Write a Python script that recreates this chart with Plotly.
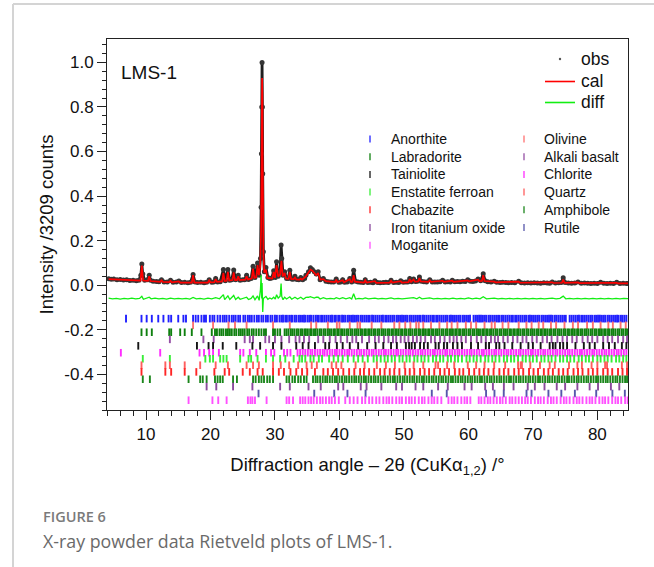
import plotly.graph_objects as go

# ------------------------------------------------------------------ data
# observed profile (2theta, intensity / 3209 counts)
obs_points = [
    (4.2, 0.029), (4.6, 0.027), (5.0, 0.028), (5.5, 0.025), (6.0, 0.026), (6.5, 0.023), (7.0, 0.024),
    (7.5, 0.021), (8.0, 0.022), (8.5, 0.020), (8.9, 0.022), (9.2, 0.045), (9.35, 0.095), (9.5, 0.050),
    (9.8, 0.022), (10.2, 0.024), (10.5, 0.045), (10.7, 0.022), (11.1, 0.018), (11.6, 0.017), (12.0, 0.016),
    (12.4, 0.025), (12.8, 0.015), (13.3, 0.014), (13.8, 0.022), (14.2, 0.013), (14.7, 0.014), (15.1, 0.019),
    (15.5, 0.012), (16.0, 0.013), (16.5, 0.011), (16.9, 0.013), (17.3, 0.048), (17.6, 0.014), (18.0, 0.012),
    (18.5, 0.013), (19.0, 0.011), (19.4, 0.013), (19.8, 0.025), (20.2, 0.013), (20.5, 0.015), (20.8, 0.030),
    (21.1, 0.015), (21.5, 0.016), (22.0, 0.070), (22.3, 0.020), (22.7, 0.070), (23.0, 0.022), (23.3, 0.025),
    (23.6, 0.068), (23.9, 0.024), (24.3, 0.045), (24.6, 0.022), (25.0, 0.024), (25.3, 0.025), (25.6, 0.045),
    (25.9, 0.026), (26.3, 0.030), (26.6, 0.085), (26.9, 0.035), (27.3, 0.100), (27.55, 0.045), (27.75, 0.120),
    (27.85, 0.350), (27.9, 0.590), (27.95, 0.800), (28.0, 1.000), (28.05, 0.800), (28.1, 0.500), (28.2, 0.150),
    (28.35, 0.060), (28.6, 0.080), (28.9, 0.035), (29.2, 0.030), (29.5, 0.032), (29.8, 0.065), (30.05, 0.035),
    (30.25, 0.105), (30.5, 0.040), (30.8, 0.060), (30.95, 0.180), (31.05, 0.120), (31.25, 0.045), (31.5, 0.060),
    (31.8, 0.030), (32.05, 0.030), (32.3, 0.067), (32.6, 0.028), (32.8, 0.027), (33.1, 0.040), (33.4, 0.026),
    (33.7, 0.025), (34.0, 0.035), (34.3, 0.025), (34.6, 0.030), (34.8, 0.045), (35.2, 0.060), (35.5, 0.078),
    (35.8, 0.070), (36.1, 0.060), (36.4, 0.050), (36.7, 0.060), (37.0, 0.025), (37.5, 0.030), (37.9, 0.018),
    (38.3, 0.016), (38.7, 0.015), (39.1, 0.014), (39.5, 0.028), (39.9, 0.013), (40.2, 0.014), (40.5, 0.025),
    (40.8, 0.013), (41.2, 0.014), (41.6, 0.030), (41.9, 0.015), (42.2, 0.067), (42.5, 0.018), (42.9, 0.014),
    (43.3, 0.013), (43.7, 0.012), (44.0, 0.025), (44.4, 0.012), (44.8, 0.013), (45.2, 0.011), (45.5, 0.020),
    (45.9, 0.012), (46.3, 0.011), (46.8, 0.012), (47.2, 0.013), (47.6, 0.012), (48.0, 0.022), (48.4, 0.012),
    (48.8, 0.013), (49.2, 0.012), (49.5, 0.020), (49.9, 0.013), (50.3, 0.014), (50.6, 0.015), (50.9, 0.030),
    (51.2, 0.016), (51.5, 0.028), (51.8, 0.017), (52.1, 0.018), (52.4, 0.037), (52.7, 0.018), (53.1, 0.016),
    (53.5, 0.015), (54.0, 0.025), (54.4, 0.015), (54.8, 0.014), (55.2, 0.015), (55.6, 0.016), (56.0, 0.022),
    (56.4, 0.015), (56.8, 0.016), (57.2, 0.015), (57.5, 0.022), (57.9, 0.016), (58.3, 0.017), (58.7, 0.016),
    (59.1, 0.018), (59.5, 0.017), (59.9, 0.025), (60.3, 0.018), (60.7, 0.017), (61.1, 0.019), (61.5, 0.028),
    (61.9, 0.020), (62.3, 0.052), (62.6, 0.020), (63.0, 0.016), (63.5, 0.015), (64.0, 0.018), (64.4, 0.013),
    (64.9, 0.012), (65.3, 0.013), (65.8, 0.012), (66.2, 0.011), (66.7, 0.012), (67.2, 0.011), (67.8, 0.018),
    (68.2, 0.011), (68.7, 0.010), (69.2, 0.011), (69.7, 0.010), (70.2, 0.011), (70.7, 0.010), (71.2, 0.009),
    (71.7, 0.011), (72.2, 0.010), (72.6, 0.009), (73.0, 0.015), (73.5, 0.010), (74.0, 0.011), (74.4, 0.012),
    (74.7, 0.033), (75.0, 0.012), (75.5, 0.010), (76.0, 0.009), (76.5, 0.010), (77.0, 0.015), (77.5, 0.009),
    (78.0, 0.010), (78.5, 0.009), (79.0, 0.008), (79.5, 0.009), (80.0, 0.008), (80.5, 0.013), (81.0, 0.009),
    (81.5, 0.008), (82.0, 0.009), (82.5, 0.008), (83.0, 0.013), (83.5, 0.008), (84.0, 0.009), (84.5, 0.008),
    (84.75, 0.008),
]

# calculated profile
calc_points = [
    (4.2, 0.027), (5.5, 0.025), (7.0, 0.022), (8.5, 0.020), (9.15, 0.021), (9.35, 0.088), (9.55, 0.021),
    (10.3, 0.020), (10.5, 0.040), (10.7, 0.019), (12.2, 0.015), (12.4, 0.022), (12.6, 0.015), (13.6, 0.014),
    (13.8, 0.020), (14.0, 0.013), (15.1, 0.017), (15.3, 0.012), (17.1, 0.012), (17.3, 0.045), (17.5, 0.012),
    (19.6, 0.012), (19.8, 0.022), (20.0, 0.013), (20.6, 0.014), (20.8, 0.028), (21.0, 0.015), (21.8, 0.017),
    (22.0, 0.055), (22.2, 0.019), (22.5, 0.020), (22.7, 0.060), (22.9, 0.021), (23.4, 0.023), (23.6, 0.058),
    (23.8, 0.023), (24.1, 0.023), (24.3, 0.040), (24.5, 0.023), (25.4, 0.025), (25.6, 0.040), (25.8, 0.026),
    (26.4, 0.030), (26.6, 0.075), (26.8, 0.033), (27.1, 0.035), (27.3, 0.090), (27.5, 0.045), (27.7, 0.080),
    (27.85, 0.245), (27.9, 0.550), (27.95, 0.800), (28.0, 0.930), (28.05, 0.850), (28.1, 0.560), (28.2, 0.150),
    (28.35, 0.055), (28.6, 0.070), (28.8, 0.033), (29.6, 0.030), (29.8, 0.060), (30.0, 0.033), (30.25, 0.090),
    (30.5, 0.038), (30.8, 0.050), (31.0, 0.110), (31.2, 0.040), (31.5, 0.055), (31.7, 0.030), (32.1, 0.029),
    (32.3, 0.060), (32.5, 0.028), (32.9, 0.027), (33.1, 0.035), (33.3, 0.026), (33.8, 0.025), (34.0, 0.030),
    (34.2, 0.025), (34.8, 0.040), (35.2, 0.055), (35.5, 0.070), (35.8, 0.065), (36.1, 0.055), (36.4, 0.045),
    (36.7, 0.055), (37.0, 0.025), (37.5, 0.027), (37.9, 0.018), (39.3, 0.014), (39.5, 0.025), (39.7, 0.014),
    (40.5, 0.022), (40.7, 0.013), (41.6, 0.027), (41.8, 0.014), (42.0, 0.015), (42.2, 0.045), (42.4, 0.016),
    (43.8, 0.012), (44.0, 0.022), (44.2, 0.012), (45.5, 0.018), (45.7, 0.011), (47.8, 0.012), (48.0, 0.020),
    (48.2, 0.012), (49.5, 0.018), (49.7, 0.012), (50.7, 0.014), (50.9, 0.027), (51.1, 0.015), (51.5, 0.025),
    (51.7, 0.016), (52.2, 0.017), (52.4, 0.032), (52.6, 0.017), (53.8, 0.015), (54.0, 0.022), (54.2, 0.015),
    (56.0, 0.020), (56.2, 0.015), (57.5, 0.020), (57.7, 0.015), (59.9, 0.022), (60.1, 0.017), (61.5, 0.025),
    (61.7, 0.018), (62.1, 0.019), (62.3, 0.045), (62.5, 0.019), (64.0, 0.016), (64.2, 0.013), (67.8, 0.016),
    (68.0, 0.011), (73.0, 0.013), (73.2, 0.010), (74.5, 0.011), (74.7, 0.025), (74.9, 0.011), (77.0, 0.013),
    (77.2, 0.009), (80.5, 0.011), (80.7, 0.009), (83.0, 0.011), (83.2, 0.008), (84.75, 0.008),
]

# difference curve (obs - cal, plotted with its offset)
diff_points = [
    (4.2, -0.058), (4.8, -0.061), (5.4, -0.059), (6.0, -0.062), (6.6, -0.059), (7.2, -0.061), (7.8, -0.058),
    (8.4, -0.061), (9.0, -0.059), (9.35, -0.050), (9.6, -0.063), (10.2, -0.059), (10.5, -0.054), (10.8, -0.061),
    (11.4, -0.058), (12.0, -0.061), (12.6, -0.059), (13.2, -0.062), (13.8, -0.058), (14.4, -0.061), (15.0, -0.059),
    (15.6, -0.061), (16.2, -0.059), (16.8, -0.062), (17.3, -0.055), (17.8, -0.061), (18.4, -0.059), (19.0, -0.062),
    (19.6, -0.058), (20.2, -0.061), (20.8, -0.056), (21.4, -0.061), (22.0, -0.042), (22.2, -0.065), (22.7, -0.048),
    (23.0, -0.064), (23.6, -0.046), (23.9, -0.064), (24.3, -0.054), (24.6, -0.063), (25.0, -0.058), (25.6, -0.054),
    (25.9, -0.064), (26.3, -0.059), (26.6, -0.048), (26.9, -0.065), (27.3, -0.048), (27.55, -0.068), (27.75, -0.020),
    (27.85, 0.045), (27.9, -0.020), (27.95, -0.060), (28.0, 0.010), (28.05, -0.110), (28.1, -0.120), (28.2, -0.060),
    (28.35, -0.055), (28.6, -0.050), (28.9, -0.063), (29.2, -0.057), (29.5, -0.062), (29.8, -0.054), (30.05, -0.062),
    (30.25, -0.043), (30.5, -0.058), (30.8, -0.049), (30.95, 0.008), (31.05, -0.050), (31.25, -0.065), (31.5, -0.054),
    (31.8, -0.062), (32.3, -0.052), (32.6, -0.063), (33.1, -0.054), (33.5, -0.062), (34.0, -0.054), (34.4, -0.063),
    (34.8, -0.055), (35.2, -0.054), (35.5, -0.051), (35.8, -0.055), (36.1, -0.058), (36.4, -0.054), (36.7, -0.054),
    (37.0, -0.062), (37.5, -0.056), (38.0, -0.061), (38.6, -0.059), (39.2, -0.061), (39.5, -0.056), (40.0, -0.061),
    (40.5, -0.056), (41.0, -0.061), (41.6, -0.056), (41.9, -0.062), (42.2, -0.038), (42.5, -0.062), (43.0, -0.059),
    (43.6, -0.061), (44.0, -0.057), (44.5, -0.061), (45.1, -0.059), (45.5, -0.058), (46.0, -0.061), (46.6, -0.059),
    (47.2, -0.061), (47.8, -0.059), (48.0, -0.057), (48.5, -0.061), (49.1, -0.059), (49.7, -0.061), (50.3, -0.059),
    (50.9, -0.056), (51.5, -0.056), (52.0, -0.061), (52.4, -0.054), (52.8, -0.061), (53.4, -0.059), (54.0, -0.057),
    (54.6, -0.061), (55.2, -0.059), (55.8, -0.061), (56.4, -0.059), (57.0, -0.061), (57.6, -0.058), (58.2, -0.061),
    (58.8, -0.059), (59.4, -0.061), (60.0, -0.057), (60.6, -0.061), (61.2, -0.058), (61.8, -0.061), (62.3, -0.052),
    (62.8, -0.061), (63.4, -0.059), (64.0, -0.058), (64.6, -0.061), (65.2, -0.059), (65.8, -0.061), (66.4, -0.059),
    (67.0, -0.061), (67.6, -0.059), (68.2, -0.061), (68.8, -0.059), (69.4, -0.061), (70.0, -0.059), (70.6, -0.061),
    (71.2, -0.059), (71.8, -0.061), (72.4, -0.059), (73.0, -0.058), (73.6, -0.061), (74.2, -0.059), (74.7, -0.049),
    (75.1, -0.061), (75.7, -0.059), (76.3, -0.061), (76.9, -0.059), (77.5, -0.061), (78.1, -0.059), (78.7, -0.061),
    (79.3, -0.059), (79.9, -0.061), (80.5, -0.059), (81.1, -0.061), (81.7, -0.059), (82.3, -0.061), (82.9, -0.059),
    (83.5, -0.061), (84.1, -0.059), (84.75, -0.060),
]

# reflection positions (2theta) of each refined phase
anorthite = [6.9, 9.3, 10.1, 10.9, 11.9, 12.7, 13.5, 13.9, 15.0, 15.8, 16.2, 17.3, 17.7, 18.1, 18.6, 19.0, 19.3,
             19.9, 20.3, 20.6, 21.1, 21.5, 21.9, 22.2, 22.5, 22.9, 23.3, 23.6, 23.9, 24.3, 24.6, 25.1, 25.4, 25.8,
             26.1, 26.4, 26.8, 27.2, 27.5, 27.9, 28.2, 28.6, 28.9, 29.3, 29.6, 30.0, 30.3, 30.7, 31.0, 31.25, 31.6,
             31.85, 32.2, 32.5, 32.7, 33.05, 33.3, 33.65, 33.9, 34.2, 34.5, 34.75, 35.1, 35.4, 35.6, 35.95, 36.3,
             36.55, 36.8, 37.15, 37.4, 37.7, 38.0, 38.3, 38.6, 38.85, 39.2, 39.45, 39.8, 40.05, 40.4, 40.65, 40.9,
             41.25, 41.5, 41.8, 42.1, 42.4, 42.7, 42.95, 43.3, 43.55, 43.85, 44.15, 44.45, 44.7, 45.05, 45.3, 45.6,
             45.9, 46.2, 46.5, 46.75, 47.1, 47.35, 47.65, 47.95, 48.25, 48.5, 48.85, 49.1, 49.4, 49.7, 50.0, 50.3,
             50.55, 50.9, 51.15, 51.45, 51.75, 52.05, 52.35, 52.6, 52.95, 53.2, 53.5, 53.8, 54.1, 54.4, 54.65, 55.0,
             55.25, 55.55, 55.85, 56.15, 56.45, 56.7, 57.05, 57.3, 57.6, 57.9, 58.2, 58.5, 58.75, 59.1, 59.35, 59.65,
             59.95, 60.25, 60.8, 61.1, 61.35, 61.65, 61.95, 62.25, 62.55, 62.8, 63.15, 63.4, 63.7, 64.0, 64.3, 64.6,
             64.85, 65.2, 65.45, 65.75, 66.05, 66.35, 66.65, 66.9, 67.25, 67.5, 67.8, 68.1, 68.4, 68.7, 68.95, 69.3,
             69.55, 69.85, 70.15, 70.45, 70.75, 71.0, 71.35, 71.6, 71.9, 72.2, 72.5, 72.8, 73.05, 73.4, 73.65, 73.95,
             74.25, 74.55, 74.85, 75.1, 75.7, 76.0, 76.3, 76.6, 76.9, 77.15, 77.5, 77.75, 78.05, 78.35, 78.65, 78.95,
             79.2, 79.55, 79.8, 80.1, 80.4, 80.7, 81.0, 81.25, 81.6, 81.85, 82.15, 82.45, 82.75, 83.05, 83.3, 83.65,
             83.9, 84.2, 84.5]
olivine = [17.3, 20.4, 22.8, 23.8, 25.6, 29.7, 32.3, 35.6, 36.4, 38.2, 39.6, 40.0, 41.6, 42.8, 43.2, 45.0, 46.5,
           48.5, 49.3, 50.2, 51.0, 51.9, 52.3, 53.0, 54.2, 55.5, 56.7, 57.4, 58.3, 59.6, 60.4, 61.2, 62.5, 63.6,
           64.1, 65.3, 66.2, 67.8, 69.0, 69.8, 70.9, 71.6, 72.8, 73.6, 74.9, 76.2, 77.0, 78.4, 79.3, 80.5, 81.7,
           82.4, 83.6, 84.4]
labradorite = [9.3, 10.1, 10.9, 13.6, 13.9, 15.3, 16.0, 17.1, 18.6, 20.2, 20.7, 21.0, 21.4, 21.7, 22.0, 22.4, 22.7,
               23.0, 23.3, 23.7, 24.0, 24.4, 24.7, 25.0, 25.3, 25.7, 26.0, 26.4, 26.7, 27.1, 27.5, 27.9, 28.3, 28.6,
               29.7, 30.0, 30.4, 30.8, 31.5, 31.8, 32.1, 32.45, 32.7, 33.0, 33.35, 33.6, 33.95, 34.2, 34.55, 34.8,
               35.1, 35.45, 35.7, 36.05, 36.3, 36.6, 36.95, 37.2, 37.55, 37.8, 38.15, 38.4, 38.7, 39.05, 39.3, 39.65,
               39.9, 40.25, 40.5, 40.8, 41.15, 41.4, 41.75, 42.0, 42.35, 42.6, 42.9, 43.25, 43.5, 43.85, 44.1, 44.45,
               44.7, 45.0, 45.35, 45.6, 45.95, 46.2, 46.55, 46.8, 47.1, 47.45, 47.7, 48.05, 48.3, 48.65, 48.9, 49.2,
               49.55, 49.8, 50.15, 50.4, 50.75, 51.0, 51.3, 51.65, 51.9, 52.25, 52.5, 52.85, 53.1, 53.4, 53.75, 54.0,
               54.35, 54.6, 54.95, 55.2, 55.5, 55.85, 56.1, 56.45, 56.7, 57.05, 57.3, 57.6, 57.95, 58.2, 58.55, 58.8,
               59.15, 59.4, 59.7, 60.05, 60.3, 60.65, 60.9, 61.25, 61.5, 61.8, 62.15, 62.4, 62.75, 63.0, 63.35, 63.6,
               63.9, 64.25, 64.5, 64.85, 65.1, 65.45, 65.7, 66.0, 66.35, 66.6, 66.95, 67.2, 67.55, 67.8, 68.1, 68.45,
               68.7, 69.05, 69.3, 69.65, 69.9, 70.2, 70.55, 70.8, 71.15, 71.4, 71.75, 72.0, 72.3, 72.65, 72.9, 73.25,
               73.5, 73.85, 74.1, 74.4, 74.75, 75.0, 75.35, 75.6, 75.95, 76.2, 76.5, 76.85, 77.1, 77.45, 77.7, 78.05,
               78.3, 78.6, 78.95, 79.2, 79.55, 79.8, 80.15, 80.4, 80.7, 81.05, 81.3, 81.65, 81.9, 82.25, 82.5, 82.8,
               83.15, 83.4, 83.75, 84.0, 84.35, 84.6]
alkali_basalt = [13.7, 18.9, 20.5, 25.3, 26.1, 26.6, 28.5, 29.1, 30.0, 31.0, 32.2, 33.2, 33.8, 34.5, 35.3, 36.7, 37.5,
                 38.5, 39.4, 40.2, 41.2, 42.0, 42.6, 43.5, 44.6, 45.5, 46.1, 46.9, 47.6, 48.3, 48.8, 49.5, 50.1, 50.7,
                 51.4, 52.0, 52.6, 53.3, 54.2, 54.8, 55.6, 56.3, 57.1, 57.7, 58.2, 58.9, 59.6, 60.4, 61.3, 62.0, 62.7,
                 63.5, 64.1, 64.6, 65.4, 66.1, 66.9, 67.6, 68.4, 69.0, 69.9, 70.6, 71.5, 72.2, 72.9, 73.8, 74.6, 75.3,
                 76.1, 76.8, 77.7, 78.5, 79.2, 80.0, 80.9, 81.6, 82.3, 83.2, 84.0, 84.6]
tainiolite = [8.8, 17.9, 19.7, 20.4, 21.9, 24.0, 26.5, 27.7, 29.7, 31.0, 33.3, 34.3, 35.2, 36.2, 37.8, 38.4, 39.6, 40.5,
              41.6, 42.9, 44.3, 45.6, 46.8, 48.0, 48.9, 50.3, 50.8, 51.2, 51.7, 52.5, 53.1, 53.7, 54.9, 55.4, 56.2,
              56.7, 57.6, 58.3, 59.0, 60.4, 61.5, 62.7, 63.2, 64.3, 64.8, 65.6, 66.8, 68.1, 69.3, 70.0, 71.2, 72.6,
              73.1, 73.5, 74.2, 74.7, 75.3, 76.6, 77.9, 78.8, 79.6, 80.9, 81.8, 82.7, 83.8, 84.5]
chlorite = [6.1, 12.2, 18.3, 19.0, 19.8, 20.4, 21.3, 24.6, 25.1, 26.1, 27.1, 28.6, 29.4, 29.9, 31.4, 31.9, 32.4, 33.5,
            33.9, 34.3, 34.7, 35.1, 35.5, 35.8, 36.2, 36.6, 37.0, 37.4, 37.7, 38.1, 38.5, 38.9, 39.3, 39.6, 40.0, 40.4,
            40.8, 41.2, 41.5, 41.9, 42.3, 42.7, 43.1, 43.4, 43.8, 44.2, 44.6, 45.0, 45.3, 45.7, 46.1, 46.5, 46.9, 47.2,
            47.6, 48.0, 48.4, 48.8, 49.1, 49.5, 49.9, 50.3, 50.7, 51.0, 51.4, 51.8, 52.2, 52.6, 52.9, 53.3, 53.7, 54.1,
            54.5, 54.8, 55.2, 55.6, 56.0, 56.4, 56.7, 57.1, 57.5, 57.9, 58.3, 58.6, 59.0, 59.4, 59.8, 60.2, 60.5, 60.9,
            61.3, 61.7, 62.1, 62.4, 62.8, 63.2, 63.6, 64.0, 64.3, 64.7, 65.1, 65.5, 65.9, 66.2, 66.6, 67.0, 67.4, 67.8,
            68.1, 68.5, 68.9, 69.3, 69.7, 70.0, 70.4, 70.8, 71.2, 71.6, 71.9, 72.3, 72.7, 73.1, 73.5, 73.8, 74.2, 74.6,
            75.0, 75.4, 75.7, 76.1, 76.5, 76.9, 77.3, 77.6, 78.0, 78.4, 78.8, 79.2, 79.5, 79.9, 80.3, 80.7, 81.1, 81.4,
            81.8, 82.2, 82.6, 83.0, 83.3, 83.7, 84.1, 84.5]
enstatite_ferroan = [9.5, 13.7, 19.2, 19.9, 20.4, 21.5, 22.0, 22.5, 24.6, 25.9, 26.3, 27.3, 28.6, 29.7, 30.8, 31.6,
                     32.9, 33.8, 34.2, 34.7, 35.5, 36.0, 36.8, 37.3, 38.4, 39.1, 39.8, 40.5, 41.3, 42.2, 42.9, 43.6,
                     44.4, 45.3, 45.8, 46.4, 47.0, 47.5, 48.1, 48.6, 49.3, 49.8, 50.4, 50.9, 51.6, 52.1, 52.7, 53.2,
                     53.8, 54.5, 55.0, 55.6, 56.1, 56.8, 57.3, 57.9, 58.4, 59.0, 59.7, 60.2, 60.8, 61.3, 61.9, 62.6,
                     63.1, 63.7, 64.2, 64.8, 65.5, 66.0, 66.6, 67.1, 67.7, 68.4, 68.9, 69.5, 70.0, 70.6, 71.3, 71.8,
                     72.4, 72.9, 73.5, 74.2, 74.7, 75.3, 75.8, 76.4, 77.1, 77.6, 78.2, 78.7, 79.3, 80.0, 80.5, 81.1,
                     81.6, 82.2, 82.9, 83.4, 84.0, 84.5]
quartz = [9.3, 13.0, 13.7, 16.0, 18.4, 20.8, 22.7, 25.6, 26.6, 27.5, 29.7, 30.9, 32.2, 33.6, 34.9, 35.7, 36.5, 38.8,
          39.5, 40.3, 42.5, 43.9, 45.8, 47.2, 48.6, 50.1, 51.5, 53.0, 54.9, 55.3, 56.7, 57.8, 59.9, 61.2, 62.5, 64.0,
          65.7, 67.7, 68.1, 68.3, 69.6, 71.1, 72.6, 73.4, 75.6, 76.9, 77.6, 79.1, 80.0, 81.2, 81.5, 83.8, 84.6]
chabazite = [9.3, 13.0, 13.9, 16.0, 17.8, 20.6, 22.2, 22.9, 25.0, 26.1, 27.3, 28.1, 29.7, 30.6, 31.4, 32.4, 33.3,
             34.2, 35.0, 36.2, 37.5, 38.2, 39.0, 39.8, 40.6, 41.5, 42.3, 43.2, 43.8, 44.6, 45.4, 46.3, 47.0, 47.8,
             48.5, 49.3, 50.2, 50.9, 51.6, 52.5, 53.2, 53.9, 54.7, 55.6, 56.3, 57.0, 57.9, 58.6, 59.2, 60.1, 60.9,
             61.7, 62.4, 63.1, 63.9, 64.8, 65.5, 66.2, 67.1, 67.8, 68.5, 69.4, 70.1, 70.8, 71.7, 72.4, 73.1, 74.0,
             74.7, 75.4, 76.3, 77.0, 77.7, 78.6, 79.3, 80.0, 80.9, 81.6, 82.3, 83.2, 83.9, 84.6]
amphibole = [9.5, 10.6, 16.6, 18.4, 18.8, 19.4, 20.7, 21.1, 21.5, 21.9, 23.5, 24.1, 26.6, 27.0, 27.5, 27.9, 28.3,
             28.8, 29.2, 29.7, 31.8, 32.2, 32.7, 33.1, 33.6, 34.0, 34.5, 34.9, 35.9, 36.3, 36.6, 37.0, 37.4, 37.8,
             38.1, 38.5, 38.9, 39.3, 39.6, 40.0, 40.4, 40.8, 41.1, 41.5, 41.9, 42.3, 42.6, 43.0, 43.4, 43.8, 44.1,
             44.5, 44.9, 45.3, 45.6, 46.0, 46.4, 46.8, 47.1, 47.5, 47.9, 48.3, 48.6, 49.0, 49.4, 49.8, 50.1, 50.5,
             50.9, 51.3, 51.6, 52.0, 52.4, 52.8, 53.1, 53.5, 53.9, 54.3, 54.6, 55.0, 55.4, 55.8, 56.1, 56.5, 56.9,
             57.3, 57.6, 58.0, 58.4, 58.8, 59.1, 59.5, 59.9, 60.3, 60.6, 61.0, 61.4, 61.8, 62.1, 62.5, 62.9, 63.3,
             63.6, 64.0, 64.4, 64.8, 65.1, 65.5, 65.9, 66.3, 66.6, 67.0, 67.4, 67.8, 68.1, 68.5, 68.9, 69.3, 69.6,
             70.0, 70.4, 70.8, 71.1, 71.5, 71.9, 72.3, 72.6, 73.0, 73.4, 73.8, 74.1, 74.5, 74.9, 75.3, 75.6, 76.0,
             76.4, 76.8, 77.1, 77.5, 77.9, 78.3, 78.6, 79.0, 79.4, 79.8, 80.1, 80.5, 80.9, 81.3, 81.6, 82.0, 82.4,
             82.8, 83.1, 83.5, 83.9, 84.3, 84.6]
iron_titanium_oxide = [19.4, 20.9, 23.5, 26.5, 30.8, 32.3, 35.2, 37.1, 39.8, 40.6, 43.3, 44.2, 46.5, 48.8, 49.7, 51.8,
                       53.0, 55.3, 56.8, 59.4, 60.5, 62.6, 63.8, 65.5, 67.0, 69.2, 70.3, 71.8, 73.7, 75.0, 76.9, 78.8,
                       80.1, 82.1, 83.4]
rutile = [27.45, 36.09, 39.19, 41.24, 44.05, 54.32, 56.64, 62.74, 64.04, 65.48, 69.01, 69.79, 72.41, 74.41, 76.51,
          79.82, 82.33, 84.26]
moganite = [16.6, 20.3, 21.2, 22.5, 25.8, 26.2, 26.5, 26.9, 28.7, 31.8, 32.2, 32.8, 33.9, 34.3, 34.7, 35.2, 35.6, 36.0,
            36.5, 37.0, 37.4, 37.9, 38.4, 38.8, 39.3, 39.9, 40.9, 41.6, 42.2, 42.8, 43.5, 44.0, 44.6, 45.1, 45.7, 46.2,
            46.8, 47.3, 47.7, 48.2, 48.8, 49.3, 49.7, 50.3, 50.8, 51.2, 51.7, 52.3, 52.8, 53.2, 53.8, 54.3, 54.7, 55.2,
            55.8, 56.9, 57.4, 57.8, 58.3, 58.9, 59.4, 59.8, 60.3, 61.6, 62.0, 62.5, 63.0, 63.4, 63.9, 64.4, 64.9, 65.3,
            65.8, 66.4, 66.8, 67.3, 67.8, 68.3, 68.8, 69.2, 69.7, 70.3, 70.8, 71.2, 71.7, 72.3, 72.8, 73.2, 73.7, 74.3,
            74.8, 75.2, 75.7, 76.3, 76.8, 77.2, 77.7, 78.3, 78.8, 79.2, 79.7, 80.3, 80.8, 81.2, 81.7, 82.3, 82.8, 83.2,
            83.7, 84.3, 84.7]

phase_names = ["Anorthite", "Olivine", "Labradorite", "Alkali basalt", "Tainiolite", "Chlorite",
               "Enstatite ferroan", "Quartz", "Chabazite", "Amphibole", "Iron titanium oxide", "Rutile", "Moganite"]
phase_reflections = [anorthite, olivine, labradorite, alkali_basalt, tainiolite, chlorite, enstatite_ferroan,
                     quartz, chabazite, amphibole, iron_titanium_oxide, rutile, moganite]

x_tick_vals = [10, 20, 30, 40, 50, 60, 70, 80]
y_tick_vals = [-0.4, -0.2, 0.0, 0.2, 0.4, 0.6, 0.8, 1.0]
y_tick_text = ["-0.4", "-0.2", "0.0", "0.2", "0.4", "0.6", "0.8", "1.0"]

# ------------------------------------------------------------------ style
W, H = 654, 567
PL, PR, PT, PB = 107, 628, 39, 410          # plot area in pixels
FONT = "Liberation Sans, Arial, Helvetica, sans-serif"
phase_colors = ["#2020ff", "#ff7070", "#0f800f", "#9550a5", "#151515", "#ff2cff", "#38ee38",
                "#ff5e5e", "#ff2626", "#1b861b", "#8a4a9c", "#5656aa", "#ff50ff"]
row_offsets = [-0.150, -0.180, -0.211, -0.243, -0.272, -0.303, -0.330, -0.359, -0.389, -0.422, -0.455, -0.486, -0.516]


def px_x(p):
    return (p - PL) / (PR - PL)


def px_y(p):
    return (PB - p) / (PB - PT)


fig = go.Figure()

ox = [p[0] for p in obs_points]
oy = [p[1] for p in obs_points]
cx = [p[0] for p in calc_points]
cy = [p[1] for p in calc_points]
dx = [p[0] for p in diff_points]
dy = [p[1] for p in diff_points]

fig.add_trace(go.Scatter(x=ox, y=oy, name="obs", mode="lines+markers",
                         line=dict(color="#1e1e1e", width=2.8),
                         marker=dict(size=5, color="#353535"), showlegend=False))
fig.add_trace(go.Scatter(x=cx, y=cy, name="cal", mode="lines",
                         line=dict(color="#ff0000", width=1.7), showlegend=False))
fig.add_trace(go.Scatter(x=dx, y=dy, name="diff", mode="lines",
                         line=dict(color="#12ee12", width=1.3), showlegend=False))

for name, refl, col, off in zip(phase_names, phase_reflections, phase_colors, row_offsets):
    fig.add_trace(go.Scatter(x=refl, y=[off] * len(refl), name=name, mode="markers",
                             marker=dict(symbol="line-ns", size=5.4, color=col,
                                         line=dict(color=col, width=1.9)),
                             showlegend=False))

shapes = []
annotations = []

# outer light-grey frame of the figure panel
shapes.append(dict(type="line", xref="paper", yref="paper", x0=px_x(13), x1=px_x(13),
                   y0=px_y(4), y1=px_y(567), line=dict(color="#d4d4d4", width=2)))
shapes.append(dict(type="line", xref="paper", yref="paper", x0=px_x(13), x1=px_x(654),
                   y0=px_y(4), y1=px_y(4), line=dict(color="#d4d4d4", width=2)))

# sample label
annotations.append(dict(text="LMS-1", xref="paper", yref="paper", x=px_x(119), y=px_y(72),
                        xanchor="left", yanchor="middle", showarrow=False,
                        font=dict(family=FONT, size=19, color="#111")))

# obs / cal / diff key
shapes.append(dict(type="circle", xref="paper", yref="paper", x0=px_x(558.8), x1=px_x(561.2),
                   y0=px_y(60.2), y1=px_y(57.8), fillcolor="#555", line=dict(width=0)))
shapes.append(dict(type="line", xref="paper", yref="paper", x0=px_x(545), x1=px_x(575),
                   y0=px_y(81.5), y1=px_y(81.5), line=dict(color="#ff0000", width=1.6)))
shapes.append(dict(type="line", xref="paper", yref="paper", x0=px_x(545), x1=px_x(575),
                   y0=px_y(102.5), y1=px_y(102.5), line=dict(color="#12ee12", width=1.6)))
for lab, yy in [("obs", 59), ("cal", 81), ("diff", 102)]:
    annotations.append(dict(text=lab, xref="paper", yref="paper", x=px_x(579), y=px_y(yy),
                            xanchor="left", yanchor="middle", showarrow=False,
                            font=dict(family=FONT, size=17.5, color="#111")))

# phase key (two columns, row-major order)
for i, (name, col) in enumerate(zip(phase_names, phase_colors)):
    c, r = i % 2, i // 2
    tx = 370 if c == 0 else 524
    lx = 389 if c == 0 else 542
    yy = 139 + r * 17.7
    shapes.append(dict(type="line", xref="paper", yref="paper", x0=px_x(tx), x1=px_x(tx),
                       y0=px_y(yy - 3.5), y1=px_y(yy + 3.5), line=dict(color=col, width=1.3)))
    annotations.append(dict(text=name, xref="paper", yref="paper", x=px_x(lx), y=px_y(yy),
                            xanchor="left", yanchor="middle", showarrow=False,
                            font=dict(family=FONT, size=14, color="#111")))

# caption
annotations.append(dict(text="FIGURE 6", xref="paper", yref="paper", x=px_x(41), y=px_y(516),
                        xanchor="left", yanchor="middle", showarrow=False,
                        font=dict(family="Open Sans, Noto Sans, sans-serif", size=14.5, color="#7a7a7a",
                                  weight=600)))
annotations.append(dict(text="X-ray powder data Rietveld plots of LMS-1.", xref="paper", yref="paper",
                        x=px_x(41), y=px_y(541), xanchor="left", yanchor="middle", showarrow=False,
                        font=dict(family="Open Sans, Noto Sans, sans-serif", size=17.8, color="#6a6a6a")))

axis_common = dict(showline=True, linecolor="#222", linewidth=1, mirror=True, ticks="outside",
                   tickcolor="#222", tickwidth=1, ticklen=9, showgrid=False, zeroline=False,
                   tickfont=dict(family=FONT, size=17, color="#111"))

fig.update_layout(
    width=W, height=H, autosize=False,
    margin=dict(l=PL, r=W - PR, t=PT, b=H - PB, pad=0),
    paper_bgcolor="white", plot_bgcolor="white",
    showlegend=False,
    xaxis=dict(axis_common, range=[3.95, 84.75], tickmode="array", tickvals=x_tick_vals,
               minor=dict(ticks="outside", ticklen=4.5, tickcolor="#222", tickwidth=1, dtick=2, tick0=0,
                          showgrid=False),
               title=dict(text="Diffraction angle \u2013 2\u03b8 (CuK\u03b1<sub>1,2</sub>) /\u00b0",
                          font=dict(family=FONT, size=18.5, color="#111"), standoff=14)),
    yaxis=dict(axis_common, range=[-0.56, 1.105], tickmode="array", tickvals=y_tick_vals,
               ticktext=y_tick_text,
               minor=dict(ticks="outside", ticklen=4.5, tickcolor="#222", tickwidth=1, dtick=0.04, tick0=0,
                          showgrid=False),
               title=dict(text="Intensity /3209 counts", font=dict(family=FONT, size=18.5, color="#111"),
                          standoff=5)),
    shapes=shapes,
    annotations=annotations,
)

fig.write_html("out.html")
